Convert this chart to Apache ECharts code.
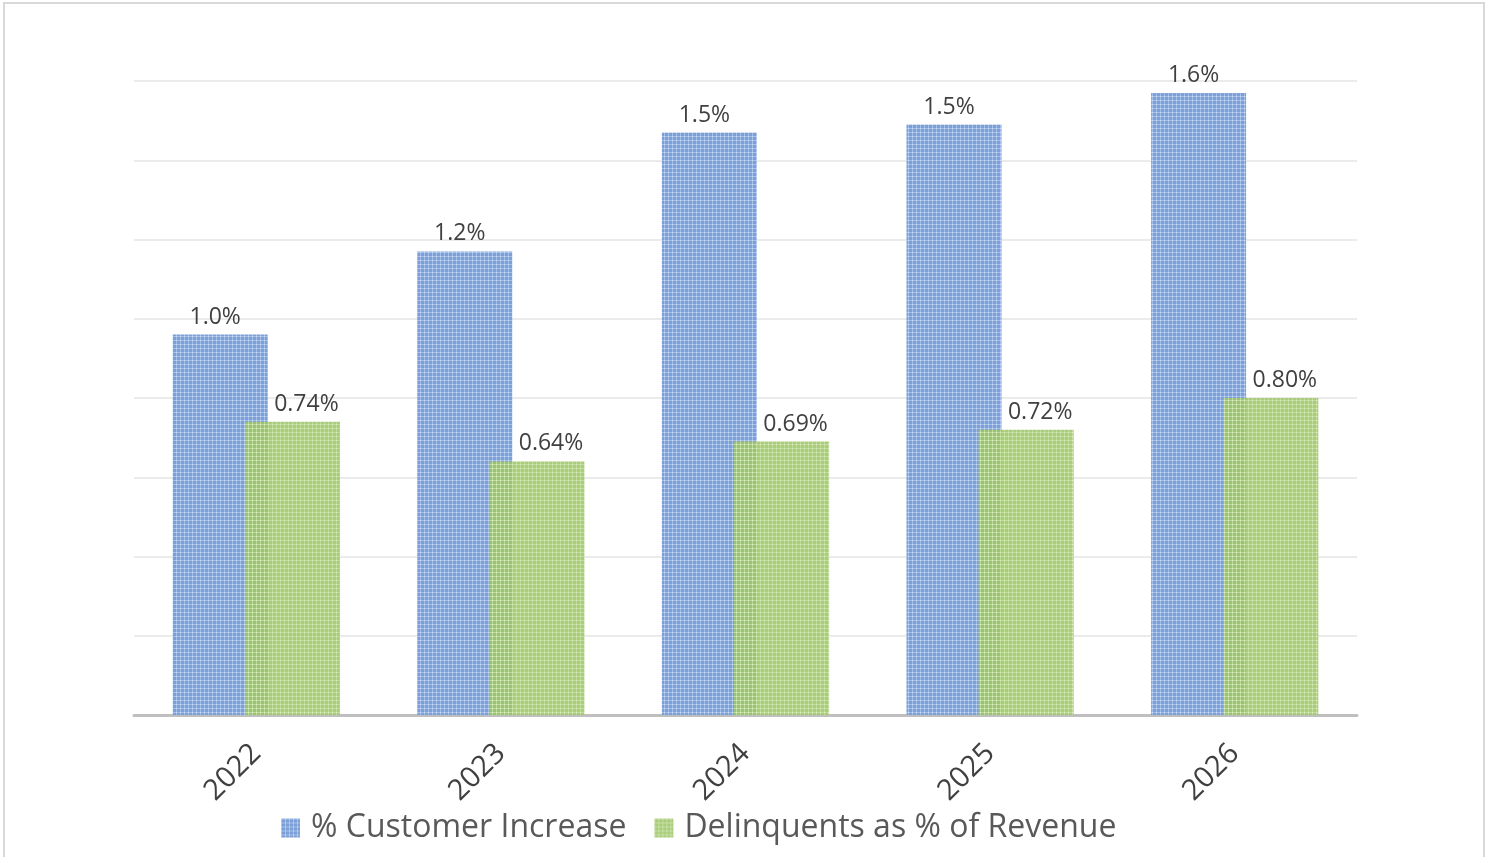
<!DOCTYPE html>
<html>
<head>
<meta charset="utf-8">
<script src="https://cdn.jsdelivr.net/npm/echarts@6/dist/echarts.min.js"></script>
<style>
  html, body { margin: 0; padding: 0; background: #fff; }
  #frame { position: absolute; left: 3px; top: 2px; width: 1482px; height: 870px; border: 2px solid #d9d9d9; box-sizing: border-box; }
  #chart { position: absolute; left: 0; top: 0; width: 1493px; height: 857px; }
</style>
</head>
<body>
<div id="frame"></div>
<div id="chart"></div>
<script>
// Years on the category axis
const years = ['2022', '2023', '2024', '2025', '2026'];
// Percent values (in %)
const customerIncrease = [0.96, 1.17, 1.47, 1.49, 1.57];
const delinquentsPct = [0.74, 0.64, 0.69, 0.72, 0.80];
const seriesNames = ['% Customer Increase', 'Delinquents as % of Revenue'];

// Small checkered tile used as a textured fill
function makeTile(base, line, dot) {
  const c = document.createElement('canvas');
  c.width = 4; c.height = 4;
  const g = c.getContext('2d');
  g.fillStyle = base; g.fillRect(0, 0, 4, 4);
  g.fillStyle = line;
  g.fillRect(0, 0, 4, 1);
  g.fillRect(0, 0, 1, 4);
  g.fillStyle = dot; g.fillRect(0, 0, 1, 1);
  return { image: c, repeat: 'repeat' };
}

const bluePattern = makeTile('#7b9fd6', '#a5c0e8', '#cadaf2');
const greenPattern = makeTile('rgba(158,198,106,0.88)', 'rgba(196,222,158,0.88)', 'rgba(222,238,198,0.9)');

const labelStyle = {
  show: true,
  position: 'top',
  distance: 6,
  color: '#404040',
  fontFamily: 'Open Sans, sans-serif',
  fontSize: 23
};

const chart = echarts.init(document.getElementById('chart'));
chart.setOption({
  animation: false,
  backgroundColor: 'transparent',
  grid: { left: 134, right: 136, top: 81, bottom: 142 },
  legend: {
    data: seriesNames,
    left: 276,
    top: 807,
    itemWidth: 19,
    itemHeight: 19,
    itemGap: 28,
    icon: 'rect',
    textStyle: {
      color: '#595959',
      fontFamily: 'Open Sans, sans-serif',
      fontSize: 32,
      padding: [0, 0, 0, 6]
    }
  },
  xAxis: {
    type: 'category',
    data: years,
    axisLine: { lineStyle: { color: '#bfbfbf', width: 3 } },
    axisTick: { show: false },
    axisLabel: {
      rotate: 45,
      margin: 34,
      color: '#404040',
      fontFamily: 'Open Sans, sans-serif',
      fontSize: 29
    }
  },
  yAxis: {
    type: 'value',
    min: 0,
    max: 1.6,
    interval: 0.2,
    axisLabel: { show: false },
    axisLine: { show: false },
    axisTick: { show: false },
    splitLine: { lineStyle: { color: '#ebebeb', width: 2 } }
  },
  series: [
    {
      name: seriesNames[0],
      type: 'bar',
      data: customerIncrease,
      barWidth: 95,
      barGap: '-24%',
      itemStyle: { color: bluePattern },
      label: Object.assign({}, labelStyle, { offset: [-5, 0], formatter: p => p.value.toFixed(1) + '%' })
    },
    {
      name: seriesNames[1],
      type: 'bar',
      data: delinquentsPct,
      barWidth: 95,
      barGap: '-24%',
      itemStyle: { color: greenPattern },
      label: Object.assign({}, labelStyle, { offset: [14, 0], formatter: p => p.value.toFixed(2) + '%' })
    }
  ]
});
</script>
</body>
</html>
